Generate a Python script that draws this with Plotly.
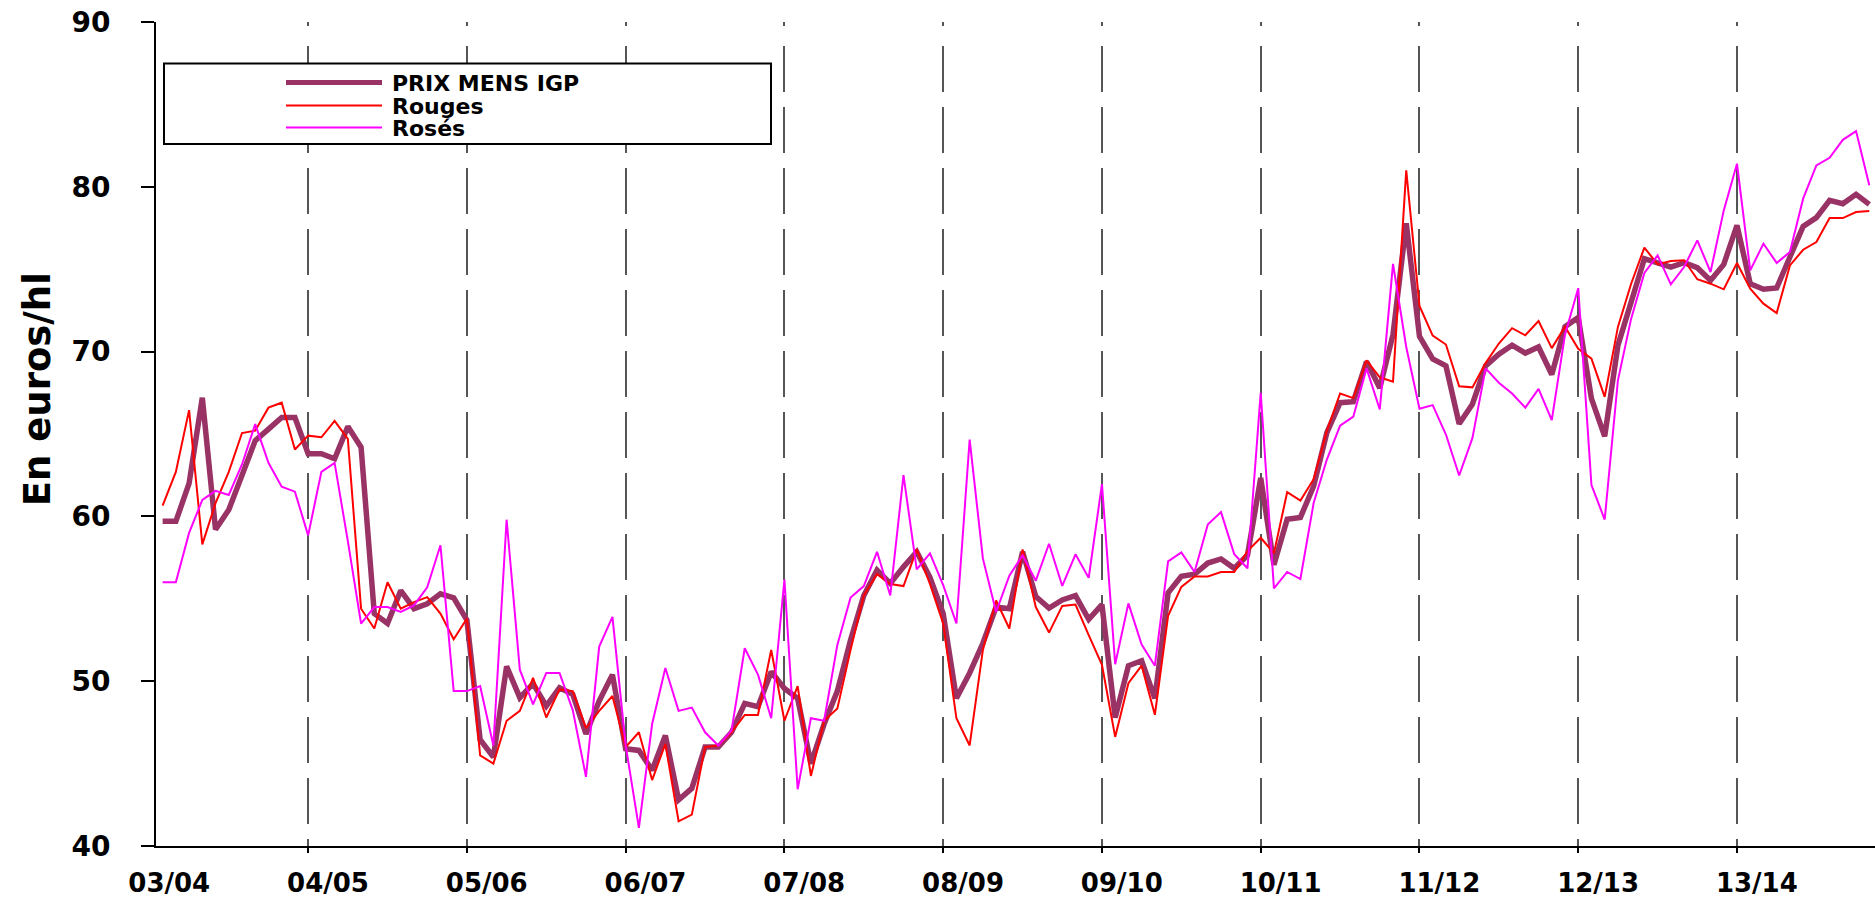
import plotly.graph_objects as go

# ---------------- data ----------------
seasons = ['03/04', '04/05', '05/06', '06/07', '07/08', '08/09',
           '09/10', '10/11', '11/12', '12/13', '13/14']

prix_mens_igp = [
    59.7, 59.7, 62.0, 67.2, 59.2, 60.4, 62.5, 64.6, 65.3, 66.0, 66.0, 63.8,
    63.8, 63.5, 65.45, 64.2, 54.1, 53.5, 55.5, 54.4, 54.7, 55.3, 55.06, 53.7,
    46.45, 45.4, 50.9, 49.0, 49.85, 48.5, 49.6, 49.2, 46.8, 48.8, 50.4, 45.9,
    45.8, 44.6, 46.7, 42.8, 43.5, 46.0, 46.0, 46.9, 48.65, 48.45, 50.57, 49.56,
    48.96, 45.0, 47.4, 49.4, 52.5, 55.2, 56.74, 55.93, 56.94, 57.85, 56.3, 54.1,
    48.96, 50.5, 52.3, 54.5, 54.4, 57.85, 55.14, 54.44, 54.93, 55.19, 53.76, 54.65,
    47.79, 50.94, 51.24, 48.96, 55.36, 56.36, 56.49, 57.17, 57.42, 56.85, 57.64, 62.33,
    57.06, 59.83, 59.94, 61.83, 65.08, 66.9, 66.96, 69.4, 67.79, 71.03, 77.79, 70.93,
    69.56, 69.13, 65.62, 66.81, 69.13, 69.84, 70.39, 69.91, 70.28, 68.61, 71.51, 72.07,
    67.15, 64.86, 70.38, 73.11, 75.64, 75.38, 75.13, 75.4, 75.09, 74.32, 75.29, 77.66,
    74.12, 73.78, 73.86, 75.74, 77.6, 78.13, 79.18, 78.97, 79.54, 78.93,
]

rouges = [
    60.66, 62.7, 66.45, 58.3, 60.8, 62.7, 65.06, 65.2, 66.6, 66.9, 64.06, 64.9,
    64.8, 65.8, 64.7, 54.4, 53.2, 56.0, 54.4, 54.8, 55.1, 54.1, 52.55, 53.8,
    45.5, 45.0, 47.6, 48.2, 50.2, 47.8, 49.5, 49.4, 47.15, 48.2, 49.1, 46.0,
    46.9, 44.0, 46.2, 41.5, 41.9, 46.0, 46.1, 46.9, 47.95, 47.95, 51.9, 47.6,
    49.7, 44.25, 47.6, 48.35, 51.9, 55.2, 56.5, 55.9, 55.77, 58.0, 55.9, 53.5,
    47.75, 46.1, 51.9, 54.9, 53.2, 58.0, 54.5, 52.95, 54.57, 54.65, 52.8, 51.0,
    46.62, 49.88, 50.94, 47.96, 53.97, 55.72, 56.36, 56.36, 56.63, 56.63, 57.9, 58.7,
    57.77, 61.47, 60.96, 62.26, 65.19, 67.46, 67.18, 69.47, 68.44, 68.18, 81.0, 72.77,
    70.97, 70.43, 67.9, 67.83, 69.3, 70.49, 71.42, 70.99, 71.86, 70.21, 71.51, 70.17,
    69.57, 67.25, 71.5, 74.12, 76.31, 75.29, 75.5, 75.54, 74.39, 74.12, 73.78, 75.38,
    73.82, 72.91, 72.34, 75.23, 76.18, 76.65, 78.1, 78.1, 78.47, 78.53,
]

roses = [
    56.0, 56.0, 59.0, 61.0, 61.55, 61.3, 63.15, 65.6, 63.25, 61.8, 61.5, 58.85,
    62.7, 63.25, 58.5, 53.5, 54.5, 54.5, 54.2, 54.6, 55.7, 58.25, 49.4, 49.4,
    49.7, 46.1, 59.8, 50.7, 48.6, 50.5, 50.5, 48.25, 44.2, 52.1, 53.9, 46.1,
    41.1, 47.4, 50.8, 48.2, 48.4, 46.9, 46.1, 47.0, 52.0, 50.4, 47.75, 56.17,
    43.44, 47.75, 47.6, 52.2, 55.08, 55.77, 57.85, 55.2, 62.5, 56.78, 57.75, 55.83,
    53.5, 64.66, 57.45, 54.2, 56.4, 57.64, 56.1, 58.34, 55.78, 57.7, 56.27, 61.96,
    51.03, 54.72, 52.22, 50.94, 57.27, 57.81, 56.63, 59.51, 60.26, 57.7, 56.85, 67.5,
    55.63, 56.63, 56.2, 60.81, 63.45, 65.51, 66.05, 68.98, 66.49, 75.32, 70.28, 66.53,
    66.75, 64.97, 62.48, 64.75, 68.98, 68.11, 67.46, 66.6, 67.74, 65.84, 71.03, 73.85,
    61.9, 59.81, 68.26, 72.0, 74.77, 75.84, 74.08, 75.13, 76.75, 74.83, 78.57, 81.4,
    74.93, 76.55, 75.38, 76.04, 79.28, 81.3, 81.76, 82.85, 83.38, 80.09,
]

y_ticks = [40, 50, 60, 70, 80, 90]

months = list(range(len(prix_mens_igp)))
label_pos = [0.5 + 12 * k for k in range(len(seasons))]
grid_pos = [11 + 12 * k for k in range(len(seasons) - 1)]

# ---------------- layout geometry ----------------
W, H = 1875, 899
L, R, T, B = 156, 0, 21.5, 53
PW, PH = W - L - R, H - T - B
X_RANGE = [-0.5, -0.5 + PW / 13.23]


def px_x(px):
    return (px - L) / PW


def px_y(py):
    return (H - B - py) / PH


FONT = 'DejaVu Sans'
PLUM = '#993366'

fig = go.Figure()
fig.add_trace(go.Scatter(x=months, y=prix_mens_igp, mode='lines', name='PRIX MENS IGP',
                         line=dict(color=PLUM, width=5.5), showlegend=False))
fig.add_trace(go.Scatter(x=months, y=rouges, mode='lines', name='Rouges',
                         line=dict(color='#FF0000', width=2), showlegend=False))
fig.add_trace(go.Scatter(x=months, y=roses, mode='lines', name='Rosés',
                         line=dict(color='#FF00FF', width=2), showlegend=False))

dash_pattern = '4px,20px,' + ','.join(['46px,15px'] * 15)

fig.update_layout(
    width=W, height=H,
    margin=dict(l=L, r=R, t=T, b=B, pad=0),
    paper_bgcolor='white', plot_bgcolor='white',
    showlegend=False,
    xaxis=dict(
        range=X_RANGE, tickmode='array', tickvals=label_pos, ticktext=seasons,
        ticks='', showgrid=False, zeroline=False,
        showline=True, linecolor='black', linewidth=2,
        tickfont=dict(family=FONT, size=26, color='black', weight='bold'),
        ticklabelstandoff=13, automargin=False,
        minor=dict(
            tickmode='array', tickvals=grid_pos,
            ticks='outside', ticklen=5, tickwidth=1.5, tickcolor='black',
            showgrid=True, gridcolor='#555555', gridwidth=1.5, griddash=dash_pattern,
        ),
    ),
    yaxis=dict(
        range=[40, 90], tickmode='array', tickvals=y_ticks,
        ticks='outside', ticklen=13, tickwidth=2, tickcolor='black',
        showgrid=False, zeroline=False,
        showline=True, linecolor='black', linewidth=2,
        tickfont=dict(family=FONT, size=28, color='black', weight='bold'),
        ticklabelstandoff=25, automargin=False,
    ),
)

# y axis title
fig.add_annotation(
    text='En euros/hl', textangle=-90, showarrow=False,
    xref='paper', yref='paper', x=px_x(37), y=px_y(389),
    xanchor='center', yanchor='middle',
    font=dict(family=FONT, size=37, color='black', weight='bold'),
)

# legend box
fig.add_shape(type='rect', xref='paper', yref='paper',
              x0=px_x(164), x1=px_x(771), y0=px_y(143.5), y1=px_y(63),
              line=dict(color='black', width=2), fillcolor='white', layer='above')

legend_rows = [('PRIX MENS IGP', PLUM, 5, 82), ('Rouges', '#FF0000', 2, 105),
               ('Rosés', '#FF00FF', 2, 127)]
for name, col, w, py in legend_rows:
    fig.add_shape(type='line', xref='paper', yref='paper',
                  x0=px_x(286), x1=px_x(382), y0=px_y(py), y1=px_y(py),
                  line=dict(color=col, width=w), layer='above')
    fig.add_annotation(text=name, showarrow=False, xref='paper', yref='paper',
                       x=px_x(390), y=px_y(py + 1), xanchor='left', yanchor='middle',
                       font=dict(family=FONT, size=22, color='black', weight='bold'))

fig.write_html('out.html', config={'displayModeBar': False},
               post_script="document.body.style.margin='0';")
